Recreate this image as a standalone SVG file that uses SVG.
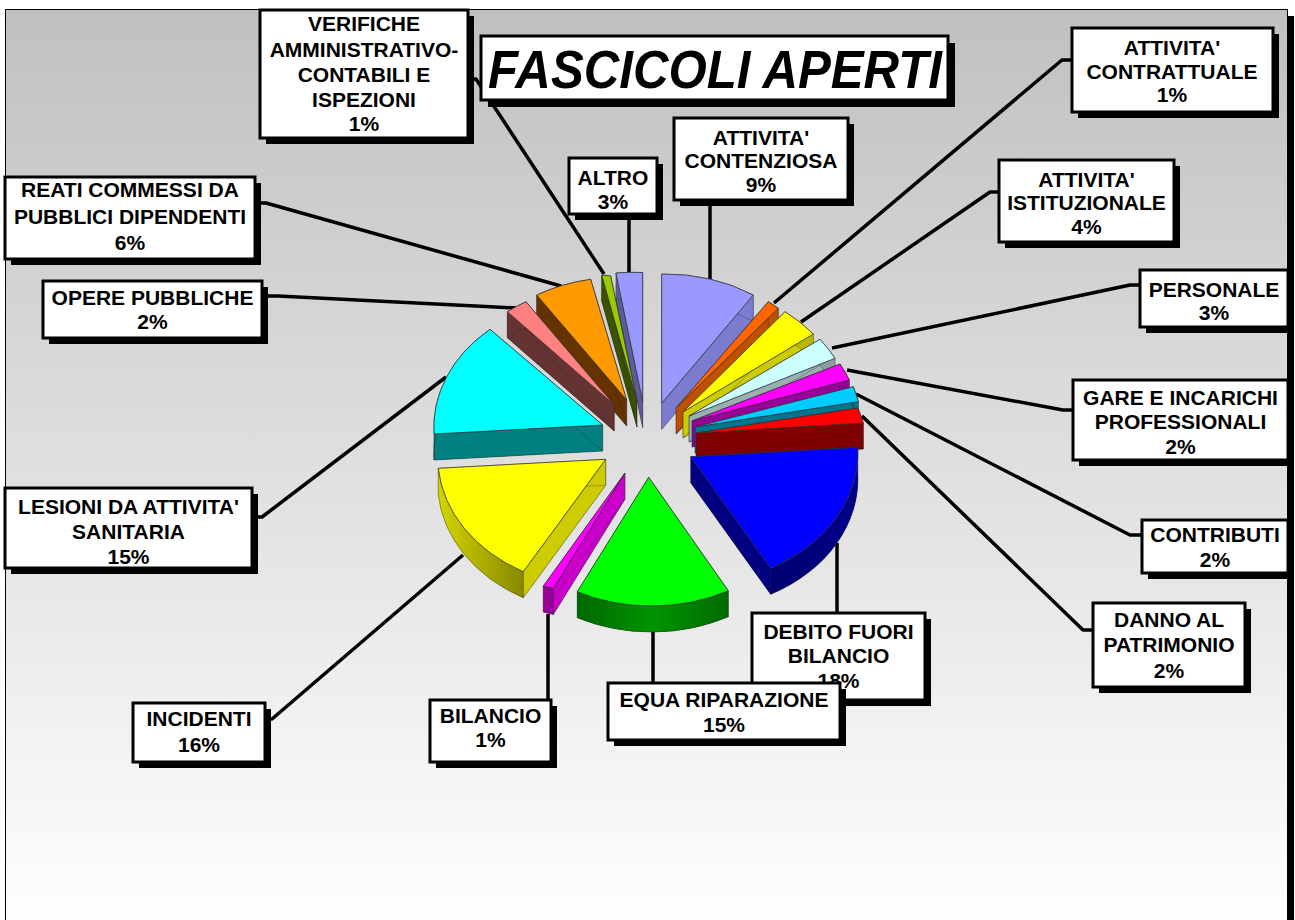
<svg xmlns="http://www.w3.org/2000/svg" width="1295" height="920" viewBox="0 0 1295 920">
<defs>
<linearGradient id="bg" x1="0" y1="0" x2="0" y2="1">
<stop offset="0" stop-color="#c0c0c0"/>
<stop offset="1" stop-color="#ffffff"/>
</linearGradient>
<linearGradient id="gYel" x1="0" y1="0" x2="1" y2="0">
<stop offset="0" stop-color="#d4d400"/>
<stop offset="1" stop-color="#888800"/>
</linearGradient>
<linearGradient id="gGrn" x1="0" y1="0" x2="1" y2="0">
<stop offset="0" stop-color="#006800"/>
<stop offset="0.5" stop-color="#009400"/>
<stop offset="1" stop-color="#006a00"/>
</linearGradient>
<linearGradient id="gBlu" x1="0" y1="0" x2="1" y2="0">
<stop offset="0" stop-color="#000070"/>
<stop offset="1" stop-color="#00008a"/>
</linearGradient>
<style>
.box{fill:#fff;stroke:#000;stroke-width:3}
.sh{fill:#000}
.lbl{font-family:"Liberation Sans",Arial,sans-serif;font-weight:bold;font-size:21px;text-anchor:middle;fill:#000}
.ttl{font-family:"Liberation Sans",Arial,sans-serif;font-weight:bold;font-style:italic;font-size:53px;text-anchor:middle;fill:#000}
.ld{fill:none;stroke:#000;stroke-width:3.5;stroke-linejoin:round}
.tp{stroke:#333;stroke-width:0.8;stroke-linejoin:round}
.sd{stroke:#222;stroke-width:0.5;stroke-opacity:0.6;stroke-linejoin:round}
</style>
</defs>

<rect x="5.5" y="9.5" width="1282" height="920" fill="url(#bg)" stroke="#000" stroke-width="1"/>
<rect x="1288" y="16" width="6" height="904" fill="#000"/>

<g id="connectors">
<path class="ld" d="M468,79 H476 L604,274"/>
<path class="ld" d="M629,214 V273"/>
<path class="ld" d="M710,200 V279"/>
<path class="ld" d="M1072,60 H1062 L774,303"/>
<path class="ld" d="M999,192 H990 L801,322"/>
<path class="ld" d="M1140,285 H1130 L832,348"/>
<path class="ld" d="M1073,410 H1063 L847,370"/>
<path class="ld" d="M1142,535 H1130 L856,394"/>
<path class="ld" d="M1093,630 H1083 L862,416"/>
<path class="ld" d="M837,543 V613"/>
<path class="ld" d="M653,631 V683"/>
<path class="ld" d="M548,614 V700"/>
<path class="ld" d="M265,719 H272 L463,555"/>
<path class="ld" d="M252,517 H262 L446,377"/>
<path class="ld" d="M262,296 H278 L516,308"/>
<path class="ld" d="M255,203 H266 L561,286"/>
</g>

<g id="pie">
<g id="slice-altro">
<path class="sd" fill="#5c5c99" transform="translate(0,26)" d="M642.7,401.7 L616,273 A163,130 0 0 1 642.7,272.5 Z"/>
<path class="sd" fill="#5c5c99" d="M642.7,401.7 L616,273 L616,299 L642.7,427.7 Z"/>
<path class="sd" fill="#5c5c99" d="M616,273 A163,130 0 0 1 642.7,272.5 L642.7,298.5 A163,130 0 0 0 616,299 Z"/>
<path class="tp" fill="#9999ff" d="M642.7,401.7 L616,273 A163,130 0 0 1 642.7,272.5 Z"/>
</g>
<g id="slice-verifiche">
<path class="sd" fill="#3d5200" transform="translate(0,26)" d="M637,401 L601.7,275 A163,130 0 0 1 610.7,276 Z"/>
<path class="sd" fill="#3d5200" d="M637,401 L601.7,275 L601.7,301 L637,427 Z M637,401 L610.7,276 L610.7,302 L637,427 Z"/>
<path class="sd" fill="#3d5200" d="M601.7,275 A163,130 0 0 1 610.7,276 L610.7,302 A163,130 0 0 0 601.7,301 Z"/>
<path class="tp" fill="#99cc00" d="M637,401 L601.7,275 A163,130 0 0 1 610.7,276 Z"/>
</g>
<g id="slice-reati">
<path class="sd" fill="#663300" transform="translate(0,26)" d="M626.7,400 L536.7,295 A163,130 0 0 1 590.7,279.3 Z"/>
<path class="sd" fill="#663300" d="M626.7,400 L536.7,295 L536.7,321 L626.7,426 Z M626.7,400 L590.7,279.3 L590.7,305.3 L626.7,426 Z"/>
<path class="sd" fill="#663300" d="M536.7,295 A163,130 0 0 1 590.7,279.3 L590.7,305.3 A163,130 0 0 0 536.7,321 Z"/>
<path class="tp" fill="#ff9900" d="M626.7,400 L536.7,295 A163,130 0 0 1 590.7,279.3 Z"/>
</g>
<g id="slice-opere">
<path class="sd" fill="#663333" transform="translate(0,26)" d="M614.3,405 L507.3,311.7 A163,130 0 0 1 526,301.7 Z"/>
<path class="sd" fill="#663333" d="M614.3,405 L507.3,311.7 L507.3,337.7 L614.3,431 Z M614.3,405 L526,301.7 L526,327.7 L614.3,431 Z"/>
<path class="sd" fill="#663333" d="M507.3,311.7 A163,130 0 0 1 526,301.7 L526,327.7 A163,130 0 0 0 507.3,337.7 Z"/>
<path class="tp" fill="#ff8080" d="M614.3,405 L507.3,311.7 A163,130 0 0 1 526,301.7 Z"/>
</g>
<g id="slice-lesioni">
<path class="sd" fill="#008080" transform="translate(0,26)" d="M602.7,425 L434,434 A163,130 0 0 1 490,329.3 Z"/>
<path class="sd" fill="#008080" d="M602.7,425 L434,434 L434,460 L602.7,451 Z M602.7,425 L490,329.3 L490,355.3 L602.7,451 Z"/>
<path class="sd" fill="#007878" d="M434,434 A163,130 0 0 1 490,329.3 L490,355.3 A163,130 0 0 0 434,460 Z"/>
<path class="tp" fill="#00ffff" d="M602.7,425 L434,434 A163,130 0 0 1 490,329.3 Z"/>
</g>
<g id="slice-contenziosa">
<path class="sd" fill="#7b7bd0" transform="translate(0,26)" d="M661.7,403.3 L661.7,274 A163,130 0 0 1 753.3,295 Z"/>
<path class="sd" fill="#7b7bd0" d="M661.7,403.3 L753.3,295 L753.3,321 L661.7,429.3 Z"/>
<path class="sd" fill="#7b7bd0" d="M661.7,274 A163,130 0 0 1 753.3,295 L753.3,321 A163,130 0 0 0 661.7,300 Z"/>
<path class="tp" fill="#9999ff" d="M661.7,403.3 L661.7,274 A163,130 0 0 1 753.3,295 Z"/>
</g>
<g id="slice-contrattuale">
<path class="sd" fill="#c05000" transform="translate(0,26)" d="M676,408 L768.3,301.7 A163,130 0 0 1 778.3,308.3 Z"/>
<path class="sd" fill="#c05000" d="M676,408 L768.3,301.7 L768.3,327.7 L676,434 Z M676,408 L778.3,308.3 L778.3,334.3 L676,434 Z"/>
<path class="sd" fill="#c05000" d="M768.3,301.7 A163,130 0 0 1 778.3,308.3 L778.3,334.3 A163,130 0 0 0 768.3,327.7 Z"/>
<path class="tp" fill="#ff6600" d="M676,408 L768.3,301.7 A163,130 0 0 1 778.3,308.3 Z"/>
</g>
<g id="slice-istituzionale">
<path class="sd" fill="#cccc00" transform="translate(0,26)" d="M683,412 L785,311.7 A163,130 0 0 1 813.3,334 Z"/>
<path class="sd" fill="#cccc00" d="M683,412 L785,311.7 L785,337.7 L683,438 Z M683,412 L813.3,334 L813.3,360 L683,438 Z"/>
<path class="sd" fill="#b8b800" d="M785,311.7 A163,130 0 0 1 813.3,334 L813.3,360 A163,130 0 0 0 785,337.7 Z"/>
<path class="tp" fill="#ffff00" d="M683,412 L785,311.7 A163,130 0 0 1 813.3,334 Z"/>
</g>
<g id="slice-personale">
<path class="sd" fill="#99b0b0" transform="translate(0,26)" d="M689,416 L820,339.3 A163,130 0 0 1 835,358.3 Z"/>
<path class="sd" fill="#99b0b0" d="M689,416 L820,339.3 L820,365.3 L689,442 Z M689,416 L835,358.3 L835,384.3 L689,442 Z"/>
<path class="sd" fill="#8aa0a0" d="M820,339.3 A163,130 0 0 1 835,358.3 L835,384.3 A163,130 0 0 0 820,365.3 Z"/>
<path class="tp" fill="#ccffff" d="M689,416 L820,339.3 A163,130 0 0 1 835,358.3 Z"/>
</g>
<g id="slice-gare">
<path class="sd" fill="#990099" transform="translate(0,26)" d="M692,421 L840,364 A163,130 0 0 1 849.3,380 Z"/>
<path class="sd" fill="#990099" d="M692,421 L840,364 L840,390 L692,447 Z M692,421 L849.3,380 L849.3,406 L692,447 Z"/>
<path class="sd" fill="#990099" d="M840,364 A163,130 0 0 1 849.3,380 L849.3,406 A163,130 0 0 0 840,390 Z"/>
<path class="tp" fill="#ff00ff" d="M692,421 L840,364 A163,130 0 0 1 849.3,380 Z"/>
</g>
<g id="slice-contributi">
<path class="sd" fill="#00758f" transform="translate(0,26)" d="M695,427 L853.3,386.7 A163,130 0 0 1 858.3,401.7 Z"/>
<path class="sd" fill="#00758f" d="M695,427 L853.3,386.7 L853.3,412.7 L695,453 Z M695,427 L858.3,401.7 L858.3,427.7 L695,453 Z"/>
<path class="sd" fill="#00758f" d="M853.3,386.7 A163,130 0 0 1 858.3,401.7 L858.3,427.7 A163,130 0 0 0 853.3,412.7 Z"/>
<path class="tp" fill="#00ccff" d="M695,427 L853.3,386.7 A163,130 0 0 1 858.3,401.7 Z"/>
</g>
<g id="slice-danno">
<path class="sd" fill="#800000" transform="translate(0,26)" d="M696,433 L857.7,408 A163,130 0 0 1 863.3,423 Z"/>
<path class="sd" fill="#800000" d="M696,433 L857.7,408 L857.7,434 L696,459 Z M696,433 L863.3,423 L863.3,449 L696,459 Z"/>
<path class="sd" fill="#800000" d="M857.7,408 A163,130 0 0 1 863.3,423 L863.3,449 A163,130 0 0 0 857.7,434 Z"/>
<path class="tp" fill="#ff0000" d="M696,433 L857.7,408 A163,130 0 0 1 863.3,423 Z"/>
</g>
<g id="slice-debito">
<path class="sd" fill="#000080" transform="translate(0,26)" d="M690.7,456.7 L857.7,447.3 A163,130 0 0 1 770.7,568.3 Z"/>
<path class="sd" fill="#000080" d="M690.7,456.7 L857.7,447.3 L857.7,473.3 L690.7,482.7 Z M690.7,456.7 L770.7,568.3 L770.7,594.3 L690.7,482.7 Z"/>
<path class="sd" fill="url(#gBlu)" d="M857.7,447.3 A163,130 0 0 1 770.7,568.3 L770.7,594.3 A163,130 0 0 0 857.7,473.3 Z"/>
<path class="tp" fill="#0000ff" d="M690.7,456.7 L857.7,447.3 A163,130 0 0 1 770.7,568.3 Z"/>
</g>
<g id="slice-incidenti">
<path class="sd" fill="#cccc00" transform="translate(0,26)" d="M605.7,459.3 L523.3,571.7 A163,130 0 0 1 438.3,468.3 Z"/>
<path class="sd" fill="#cccc00" d="M605.7,459.3 L523.3,571.7 L523.3,597.7 L605.7,485.3 Z M605.7,459.3 L438.3,468.3 L438.3,494.3 L605.7,485.3 Z"/>
<path class="sd" fill="url(#gYel)" d="M523.3,571.7 A163,130 0 0 1 438.3,468.3 L438.3,494.3 A163,130 0 0 0 523.3,597.7 Z"/>
<path class="tp" fill="#ffff00" d="M605.7,459.3 L523.3,571.7 A163,130 0 0 1 438.3,468.3 Z"/>
</g>
<g id="slice-bilancio">
<path class="sd" fill="#cc00cc" transform="translate(0,26)" d="M625,473 L553.3,588.5 A163,130 0 0 1 543.3,586 Z"/>
<path class="sd" fill="#cc00cc" d="M625,473 L553.3,588.5 L553.3,614.5 L625,499 Z M625,473 L543.3,586 L543.3,612 L625,499 Z"/>
<path class="sd" fill="#990099" d="M553.3,588.5 A163,130 0 0 1 543.3,586 L543.3,612 A163,130 0 0 0 553.3,614.5 Z"/>
<path class="tp" fill="#ff00ff" d="M625,473 L553.3,588.5 A163,130 0 0 1 543.3,586 Z"/>
</g>
<g id="slice-equa">
<path class="sd" fill="#008000" transform="translate(0,26)" d="M648.7,477.3 L728.3,590.7 A163,130 0 0 1 577.3,591.7 Z"/>
<path class="sd" fill="#008000" d="M648.7,477.3 L728.3,590.7 L728.3,616.7 L648.7,503.3 Z M648.7,477.3 L577.3,591.7 L577.3,617.7 L648.7,503.3 Z"/>
<path class="sd" fill="url(#gGrn)" d="M728.3,590.7 A163,130 0 0 1 577.3,591.7 L577.3,617.7 A163,130 0 0 0 728.3,616.7 Z"/>
<path class="tp" fill="#00ff00" d="M648.7,477.3 L728.3,590.7 A163,130 0 0 1 577.3,591.7 Z"/>
</g>
</g>

<g id="lbl-verifiche">
<rect class="sh" x="266" y="16" width="208" height="128"/>
<rect class="box" x="260" y="10" width="208" height="128"/>
<text class="lbl" x="364" y="31">VERIFICHE</text>
<text class="lbl" x="364" y="57">AMMINISTRATIVO-</text>
<text class="lbl" x="364" y="82">CONTABILI E</text>
<text class="lbl" x="364" y="107">ISPEZIONI</text>
<text class="lbl" x="364" y="131">1%</text>
</g>
<g id="title">
<rect class="sh" x="488" y="43" width="467" height="64"/>
<rect class="box" x="481" y="36" width="467" height="64"/>
<text class="ttl" x="715" y="88" textLength="454" lengthAdjust="spacingAndGlyphs">FASCICOLI APERTI</text>
</g>
<g id="lbl-contrattuale">
<rect class="sh" x="1078" y="34" width="201" height="84"/>
<rect class="box" x="1072" y="28" width="201" height="84"/>
<text class="lbl" x="1172" y="55">ATTIVITA'</text>
<text class="lbl" x="1172" y="79">CONTRATTUALE</text>
<text class="lbl" x="1172" y="102">1%</text>
</g>
<g id="lbl-contenziosa">
<rect class="sh" x="680" y="124" width="174" height="82"/>
<rect class="box" x="674" y="118" width="174" height="82"/>
<text class="lbl" x="761" y="145">ATTIVITA'</text>
<text class="lbl" x="761" y="168">CONTENZIOSA</text>
<text class="lbl" x="761" y="192">9%</text>
</g>
<g id="lbl-altro">
<rect class="sh" x="575" y="164" width="88" height="56"/>
<rect class="box" x="569" y="158" width="88" height="56"/>
<text class="lbl" x="613" y="185">ALTRO</text>
<text class="lbl" x="613" y="209">3%</text>
</g>
<g id="lbl-reati">
<rect class="sh" x="11" y="183" width="250" height="82"/>
<rect class="box" x="5" y="177" width="250" height="82"/>
<text class="lbl" x="130" y="197">REATI COMMESSI DA</text>
<text class="lbl" x="130" y="224">PUBBLICI DIPENDENTI</text>
<text class="lbl" x="130" y="250">6%</text>
</g>
<g id="lbl-opere">
<rect class="sh" x="49" y="287" width="219" height="57"/>
<rect class="box" x="43" y="281" width="219" height="57"/>
<text class="lbl" x="152.5" y="305">OPERE PUBBLICHE</text>
<text class="lbl" x="152.5" y="329">2%</text>
</g>
<g id="lbl-istituzionale">
<rect class="sh" x="1005" y="166" width="175" height="82"/>
<rect class="box" x="999" y="160" width="175" height="82"/>
<text class="lbl" x="1086.5" y="187">ATTIVITA'</text>
<text class="lbl" x="1086.5" y="210">ISTITUZIONALE</text>
<text class="lbl" x="1086.5" y="234">4%</text>
</g>
<g id="lbl-personale">
<rect class="sh" x="1146" y="276" width="148" height="57"/>
<rect class="box" x="1140" y="270" width="148" height="57"/>
<text class="lbl" x="1214" y="297">PERSONALE</text>
<text class="lbl" x="1214" y="320">3%</text>
</g>
<g id="lbl-gare">
<rect class="sh" x="1079" y="386" width="215" height="80"/>
<rect class="box" x="1073" y="380" width="215" height="80"/>
<text class="lbl" x="1180.5" y="405">GARE E INCARICHI</text>
<text class="lbl" x="1180.5" y="429">PROFESSIONALI</text>
<text class="lbl" x="1180.5" y="454">2%</text>
</g>
<g id="lbl-contributi">
<rect class="sh" x="1148" y="526" width="146" height="53"/>
<rect class="box" x="1142" y="520" width="146" height="53"/>
<text class="lbl" x="1215" y="542">CONTRIBUTI</text>
<text class="lbl" x="1215" y="567">2%</text>
</g>
<g id="lbl-danno">
<rect class="sh" x="1099" y="609" width="152" height="84"/>
<rect class="box" x="1093" y="603" width="152" height="84"/>
<text class="lbl" x="1169" y="627">DANNO AL</text>
<text class="lbl" x="1169" y="652">PATRIMONIO</text>
<text class="lbl" x="1169" y="678">2%</text>
</g>
<g id="lbl-lesioni">
<rect class="sh" x="11" y="494" width="247" height="80"/>
<rect class="box" x="5" y="488" width="247" height="80"/>
<text class="lbl" x="128.5" y="514">LESIONI DA ATTIVITA'</text>
<text class="lbl" x="128.5" y="539">SANITARIA</text>
<text class="lbl" x="128.5" y="564">15%</text>
</g>
<g id="lbl-incidenti">
<rect class="sh" x="139" y="709" width="132" height="59"/>
<rect class="box" x="133" y="703" width="132" height="59"/>
<text class="lbl" x="199" y="726">INCIDENTI</text>
<text class="lbl" x="199" y="752">16%</text>
</g>
<g id="lbl-bilancio">
<rect class="sh" x="436" y="706" width="121" height="62"/>
<rect class="box" x="430" y="700" width="121" height="62"/>
<text class="lbl" x="490.5" y="723">BILANCIO</text>
<text class="lbl" x="490.5" y="747">1%</text>
</g>
<g id="lbl-debito">
<rect class="sh" x="758" y="619" width="173" height="87"/>
<rect class="box" x="752" y="613" width="173" height="87"/>
<text class="lbl" x="838.5" y="639">DEBITO FUORI</text>
<text class="lbl" x="838.5" y="663">BILANCIO</text>
<text class="lbl" x="838.5" y="688">18%</text>
</g>
<g id="lbl-equa">
<rect class="sh" x="614" y="689" width="232" height="57"/>
<rect class="box" x="608" y="683" width="232" height="57"/>
<text class="lbl" x="724" y="707">EQUA RIPARAZIONE</text>
<text class="lbl" x="724" y="732">15%</text>
</g>
</svg>
